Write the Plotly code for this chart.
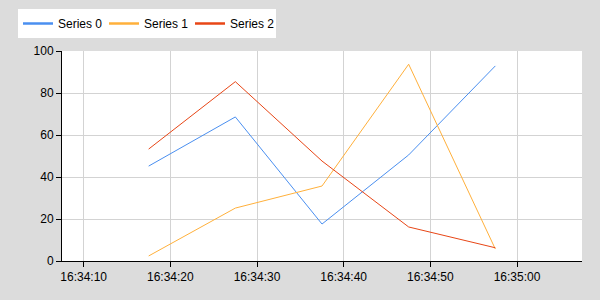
import plotly.graph_objects as go

times = ["2024-01-01 16:34:17.5", "2024-01-01 16:34:27.5", "2024-01-01 16:34:37.5",
         "2024-01-01 16:34:47.5", "2024-01-01 16:34:57.5"]
series_names = ["Series 0", "Series 1", "Series 2"]
series0 = [45.2, 68.6, 17.6, 50.5, 92.9]
series1 = [2.4, 25.2, 35.7, 93.7, 5.7]
series2 = [53.3, 85.4, 47.6, 16.2, 6.3]
colors = ["#4a8ff0", "#ffb03b", "#e84616"]
x_range = ["2024-01-01 16:34:07.5", "2024-01-01 16:35:07.5"]

fig = go.Figure()
for name, vals, c in zip(series_names, [series0, series1, series2], colors):
    fig.add_trace(go.Scatter(x=times, y=vals, mode="lines", name=name,
                             legendgroup=name, showlegend=False,
                             line=dict(color=c, width=1)))
# legend entries with thicker swatches
for name, c in zip(series_names, colors):
    fig.add_trace(go.Scatter(x=[None], y=[None], mode="lines", name=name,
                             legendgroup=name, showlegend=True,
                             line=dict(color=c, width=2.5)))

fig.update_layout(
    width=600, height=300,
    margin=dict(l=62, r=18, t=51, b=39, autoexpand=False),
    paper_bgcolor="#dcdcdc", plot_bgcolor="white",
    font=dict(family="Liberation Sans, Arial, sans-serif", size=12, color="black"),
    showlegend=True,
    legend=dict(orientation="h", xref="container", yref="container",
                x=0.03, y=0.97, xanchor="left", yanchor="top",
                bgcolor="white", borderwidth=0,
                entrywidth=41, entrywidthmode="pixels",
                font=dict(size=12), tracegroupgap=0),
)
fig.update_xaxes(type="date", range=x_range, dtick=10000, tickformat="%H:%M:%S",
                 showgrid=True, gridcolor="#d3d3d3", gridwidth=1,
                 showline=True, linecolor="black", linewidth=1,
                 ticks="outside", ticklen=5, tickcolor="black", zeroline=False)
fig.update_yaxes(range=[0, 100], dtick=20,
                 showgrid=True, gridcolor="#d3d3d3", gridwidth=1,
                 showline=True, linecolor="black", linewidth=1,
                 ticks="outside", ticklen=5, tickcolor="black", zeroline=False)

fig.write_html("out.html")
